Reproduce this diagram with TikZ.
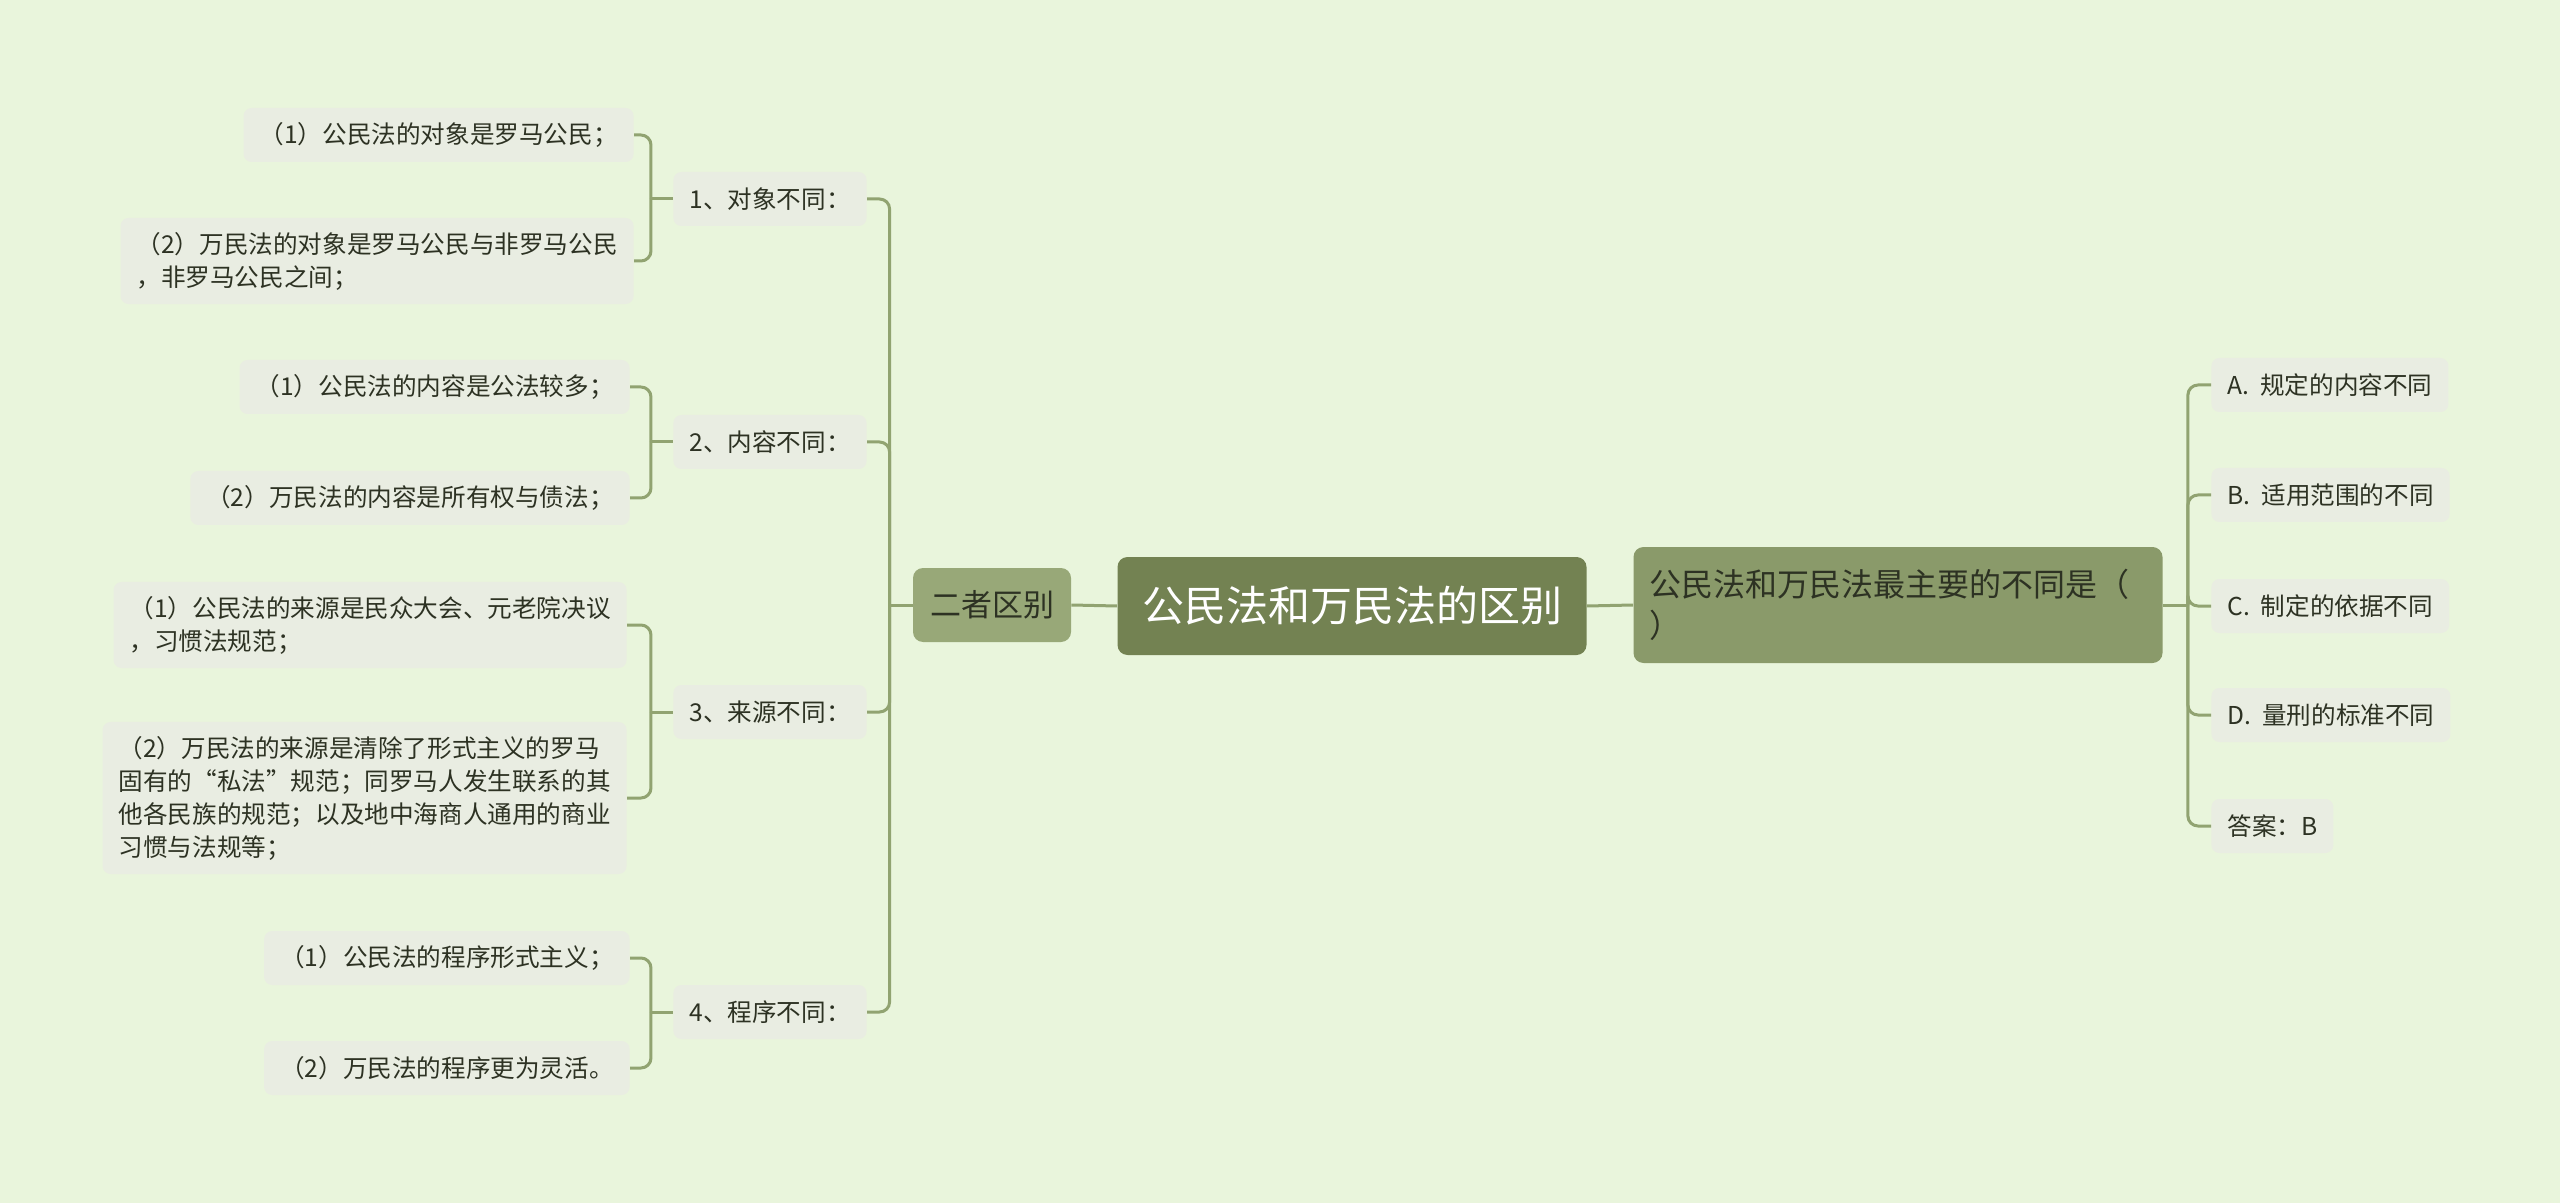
\documentclass[tikz,border=0pt]{standalone}
\usepackage{fontspec}
\newfontfamily\cjk{Noto Sans CJK SC}
\definecolor{bg}{RGB}{233,245,220}
\definecolor{leaf}{RGB}{233,237,226}
\definecolor{wire}{RGB}{145,163,113}
\definecolor{rootc}{RGB}{115,130,82}
\definecolor{midc}{RGB}{152,168,120}
\definecolor{askc}{RGB}{138,154,106}
\definecolor{ink}{RGB}{45,50,35}
\begin{document}
\begin{tikzpicture}[x=0.5pt,y=-0.5pt,
    leafbox/.style={fill=leaf,rounded corners=4pt,text=ink,align=left,
        font=\cjk\fontsize{12.3}{16.5}\selectfont,
        inner xsep=8pt,inner ysep=7pt,minimum height=27pt},
    link/.style={draw=wire,line width=1.5pt,rounded corners=5pt,line join=round}]
    \fill[bg] (0,0) rectangle (2560,1203);
    \useasboundingbox (0,0) rectangle (2560,1203);
    % centre
    \node[fill=rootc,text=white,rounded corners=5pt,minimum width=234.5pt,minimum height=49pt,
        font=\cjk\fontsize{21}{25}\selectfont] (root) at (1352,606) {公民法和万民法的区别};
    \node[fill=midc,text=ink,rounded corners=5pt,minimum width=79pt,minimum height=37pt,
        font=\cjk\fontsize{15.5}{19}\selectfont] (diff) at (992,605) {二者区别};
    \node[fill=askc,text=ink,rounded corners=5pt,minimum width=264.5pt,minimum height=58pt,
        text width=248.5pt,inner xsep=8pt,align=left,
        font=\cjk\fontsize{16}{20.5}\selectfont] (ask) at (1898,605)
        {公民法和万民法最主要的不同是（\\）};
    \draw[link] (root.west) -- (diff.east);
    \draw[link] (root.east) -- (ask.west);
    % left: four points
    \node[leafbox] (t1) at (770,199) {1、对象不同：};
    \node[leafbox] (t2) at (770,442) {2、内容不同：};
    \node[leafbox] (t3) at (770,712) {3、来源不同：};
    \node[leafbox] (t4) at (770,1012) {4、程序不同：};
    \node[leafbox,anchor=east] (l1a) at (634,135) {（1）公民法的对象是罗马公民；};
    \node[leafbox,anchor=east] (l1b) at (634,261) {（2）万民法的对象是罗马公民与非罗马公民\\，非罗马公民之间；};
    \node[leafbox,anchor=east] (l2a) at (630,387) {（1）公民法的内容是公法较多；};
    \node[leafbox,anchor=east] (l2b) at (630,498) {（2）万民法的内容是所有权与债法；};
    \node[leafbox,anchor=east] (l3a) at (627,625) {（1）公民法的来源是民众大会、元老院决议\\，习惯法规范；};
    \node[leafbox,anchor=east] (l3b) at (627,798) {（2）万民法的来源是清除了形式主义的罗马\\固有的“私法”规范；同罗马人发生联系的其\\他各民族的规范；以及地中海商人通用的商业\\习惯与法规等；};
    \node[leafbox,anchor=east] (l4a) at (630,958) {（1）公民法的程序形式主义；};
    \node[leafbox,anchor=east] (l4b) at (630,1068) {（2）万民法的程序更为灵活。};
    \draw[link] (diff.west) -- ++(-23,0) coordinate (jl);
    \foreach \t in {t1,t2,t3,t4}
        \draw[link] (jl) |- (\t.east);
    \foreach \t/\a/\b in {t1/l1a/l1b,t2/l2a/l2b,t3/l3a/l3b,t4/l4a/l4b} {
        \draw[link] (\t.west) -- ++(-22,0) coordinate (k);
        \draw[link] (k) |- (\a.east);
        \draw[link] (k) |- (\b.east);
    }
    % right: options
    \node[leafbox,anchor=west] (oa) at (2211,385) {A.~~规定的内容不同};
    \node[leafbox,anchor=west] (ob) at (2211,495) {B.~~适用范围的不同};
    \node[leafbox,anchor=west] (oc) at (2211,606) {C.~~制定的依据不同};
    \node[leafbox,anchor=west] (od) at (2211,715) {D.~~量刑的标准不同};
    \node[leafbox,anchor=west] (ans) at (2211,826) {答案：B};
    \draw[link] (ask.east) -- ++(25,0) coordinate (jr);
    \foreach \o in {oa,ob,oc,od,ans}
        \draw[link] (jr) |- (\o.west);
\end{tikzpicture}
\end{document}
